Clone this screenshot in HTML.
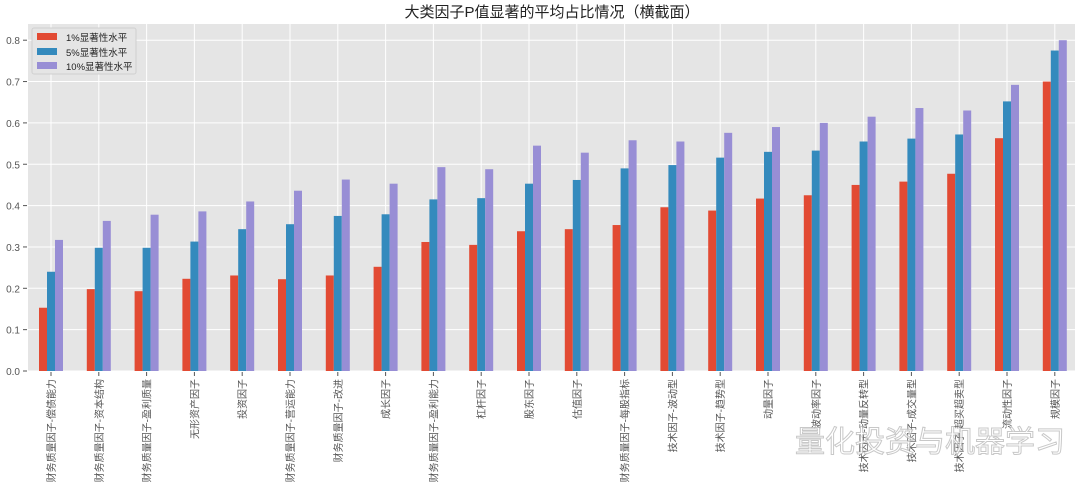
<!DOCTYPE html>
<html><head><meta charset="utf-8"><style>
body{margin:0;background:#fff;width:1080px;height:491px;overflow:hidden;font-family:"Liberation Sans","Noto Sans CJK SC",sans-serif}
svg text{font-family:"Liberation Sans","Noto Sans CJK SC",sans-serif}
</style></head><body>
<svg id="chart" width="1080" height="491" xmlns="http://www.w3.org/2000/svg">
<rect x="0" y="0" width="1080" height="491" fill="#fff"/>
<text x="552" y="17" text-anchor="middle" font-size="15" fill="#222">大类因子P值显著的平均占比情况（横截面）</text>
<rect x="28" y="24" width="1047" height="347" fill="#e5e5e5"/>
<g id="grid"></g><g id="bars"></g><g id="axes"></g>
<g>
<rect x="32" y="28" width="104" height="46" fill="#e5e5e5" stroke="#d0d0d0" rx="2"/>
<rect x="37" y="33" width="20" height="7" fill="#E24A33"/><text x="66" y="41" font-size="9.5" fill="#222">1%显著性水平</text>
<rect x="37" y="48" width="20" height="7" fill="#348ABD"/><text x="66" y="56" font-size="9.5" fill="#222">5%显著性水平</text>
<rect x="37" y="62" width="20" height="7" fill="#988ED5"/><text x="66" y="70" font-size="9.5" fill="#222">10%显著性水平</text>
</g>
<text x="930" y="452" text-anchor="middle" font-size="30" fill="#fff" stroke="#bbb" stroke-width="1" opacity="0.8">量化投资与机器学习</text>
</svg>
<script>
const categories=["财务质量因子-偿债能力","财务质量因子-资本结构","财务质量因子-盈利质量","无形资产因子","投资因子","财务质量因子-营运能力","财务质量因子-改进","成长因子","财务质量因子-盈利能力","杠杆因子","股东因子","估值因子","财务质量因子-每股指标","技术因子-波动型","技术因子-趋势型","动量因子","波动率因子","技术因子-动量反转型","技术因子-成交量型","技术因子-超买超卖型","流动性因子","规模因子"];
const p1=[0.153,0.198,0.193,0.223,0.231,0.222,0.231,0.252,0.312,0.305,0.338,0.343,0.353,0.396,0.388,0.417,0.425,0.45,0.458,0.477,0.563,0.7];
const p5=[0.24,0.298,0.298,0.313,0.343,0.355,0.375,0.379,0.415,0.418,0.453,0.462,0.49,0.498,0.516,0.53,0.533,0.555,0.562,0.572,0.652,0.775];
const p10=[0.317,0.363,0.378,0.386,0.41,0.436,0.463,0.453,0.493,0.488,0.545,0.528,0.558,0.555,0.576,0.59,0.6,0.615,0.636,0.63,0.692,0.8];
const yTicks=["0.0","0.1","0.2","0.3","0.4","0.5","0.6","0.7","0.8"];
const NS="http://www.w3.org/2000/svg";
const y=v=>371-v*413.5;
const x=i=>51+i*47.8;
function mk(tag,attrs,parent){const e=document.createElementNS(NS,tag);for(const k in attrs)e.setAttribute(k,attrs[k]);parent.appendChild(e);return e;}
const grid=document.getElementById('grid'),bars=document.getElementById('bars'),axes=document.getElementById('axes');
yTicks.forEach(t=>{const v=parseFloat(t);
const l=mk('line',{x1:28,x2:1075,y1:y(v),y2:y(v),stroke:'#fff','stroke-width':1},grid);


const tx=mk('text',{x:20,y:y(v)+4,'text-anchor':'end','font-size':10,fill:'#555'},axes);tx.textContent=t;


mk('line',{x1:23,x2:27,y1:y(v),y2:y(v),stroke:'#555'},axes);});
const series=[[p1,'#E24A33',-8,'1pct'],[p5,'#348ABD',0,'5pct'],[p10,'#988ED5',8,'10pct']];
categories.forEach((c,i)=>{
const gl=mk('line',{x1:x(i),x2:x(i),y1:24,y2:371,stroke:'#fff'},grid);


series.forEach(s=>{const v=s[0][i];
const r=mk('rect',{x:x(i)+s[2]-4,y:y(v),width:8,height:371-y(v),fill:s[1]},bars);

});
mk('line',{x1:x(i),x2:x(i),y1:372,y2:376,stroke:'#555'},axes);
const t=mk('text',{transform:`translate(${x(i)+4},379) rotate(-90)`,'text-anchor':'end','font-size':10,fill:'#555'},axes);
t.textContent=c;


});
</script>
</body></html>
